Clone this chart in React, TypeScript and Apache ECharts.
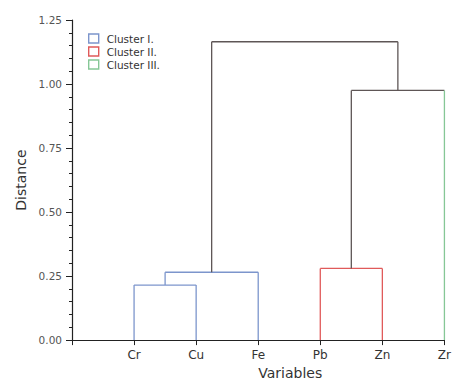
import React, { useEffect, useRef } from "react";
import * as echarts from "echarts";

const tickLabels = ["", "Cr", "Cu", "Fe", "Pb", "Zn", "Zr"];
const leafNames = ["Cr", "Cu", "Fe", "Pb", "Zn", "Zr"];
// merges: [childA, childB] (index < 6 = leaf, else merge node 6+k), height
const mergeChildren: [number, number][] = [[0, 1], [6, 2], [3, 4], [8, 5], [7, 9]];
const mergeHeights = [0.215, 0.265, 0.28, 0.975, 1.165];
// colour group per [left leg, bar, right leg]
const mergeGroups: [string, string, string][] = [
  ["Cluster I.", "Cluster I.", "Cluster I."],
  ["Cluster I.", "Cluster I.", "Cluster I."],
  ["Cluster II.", "Cluster II.", "Cluster II."],
  ["link", "link", "Cluster III."],
  ["link", "link", "link"],
];
const legendNames = ["Cluster I.", "Cluster II.", "Cluster III."];
const colors: Record<string, string> = {
  "Cluster I.": "#7c95cc",
  "Cluster II.": "#e05a5a",
  "Cluster III.": "#86c796",
  link: "#5e5656",
};
const FONT = "DejaVu Sans";

export default function App() {
  const ref = useRef<HTMLDivElement>(null);
  useEffect(() => {
    if (!ref.current) return;
    const chart = echarts.init(ref.current, null, { renderer: "svg" });
    const nodeX: number[] = leafNames.map((_, i) => i + 1);
    const nodeH: number[] = leafNames.map(() => 0);
    const series: any[] = [];
    const seg = (name: string, pts: number[][]) => {
      series.push({
        type: "line",
        name,
        data: pts,
        symbol: "none",
        silent: true,
        lineStyle: { color: colors[name], width: 1.3 },
        itemStyle: { color: colors[name] },
      });
    };
    mergeChildren.forEach(([a, b], k) => {
      const h = mergeHeights[k];
      const [gl, gb, gr] = mergeGroups[k];
      seg(gl, [[nodeX[a], nodeH[a]], [nodeX[a], h]]);
      seg(gb, [[nodeX[a], h], [nodeX[b], h]]);
      seg(gr, [[nodeX[b], h], [nodeX[b], nodeH[b]]]);
      nodeX.push((nodeX[a] + nodeX[b]) / 2);
      nodeH.push(h);
    });
    chart.setOption({
      animation: false,
      backgroundColor: "#fff",
      grid: { left: 72, right: 5, top: 20, bottom: 43 },
      legend: {
        left: 83,
        top: 33,
        padding: [0, 5],
        orient: "vertical",
        itemWidth: 10,
        itemHeight: 9,
        itemGap: 2,
        icon: "rect",
        textStyle: { fontSize: 10.5, color: "#333", fontFamily: FONT, padding: [0, 0, 0, 3] },
        data: legendNames.map((n) => ({
          name: n,
          icon: "rect",
          itemStyle: { color: "#fff", borderColor: colors[n], borderWidth: 1.4 },
        })),
      },
      xAxis: {
        type: "value",
        min: 0,
        max: 6,
        interval: 1,
        name: "Variables",
        nameLocation: "middle",
        nameGap: 24,
        nameTextStyle: { fontSize: 14, color: "#333", fontFamily: FONT, padding: [0, 0, 0, 64] },
        splitLine: { show: false },
        axisLine: { lineStyle: { color: "#222", width: 1.2 } },
        axisTick: { length: 5, lineStyle: { color: "#222" } },
        axisLabel: {
          formatter: (v: number) => tickLabels[Math.round(v)] ?? "",
          fontSize: 12,
          color: "#333",
          margin: 9,
          fontFamily: FONT,
          showMaxLabel: true,
        },
      },
      yAxis: {
        type: "value",
        min: 0,
        max: 1.25,
        interval: 0.25,
        name: "Distance",
        nameLocation: "middle",
        nameGap: 44,
        nameTextStyle: { fontSize: 14, color: "#333", fontFamily: FONT },
        splitLine: { show: false },
        axisLine: { show: true, lineStyle: { color: "#222", width: 1.2 } },
        axisTick: { show: true, length: 6, lineStyle: { color: "#222" } },
        minorTick: { show: true, splitNumber: 5, length: 3, lineStyle: { color: "#222" } },
        axisLabel: {
          formatter: (v: number) => v.toFixed(2),
          fontSize: 10.5,
          color: "#555",
          margin: 10,
          fontFamily: FONT,
        },
      },
      series,
    });
    return () => chart.dispose();
  }, []);
  return <div ref={ref} style={{ width: 454, height: 385, position: "absolute", left: 0, top: 0 }} />;
}
